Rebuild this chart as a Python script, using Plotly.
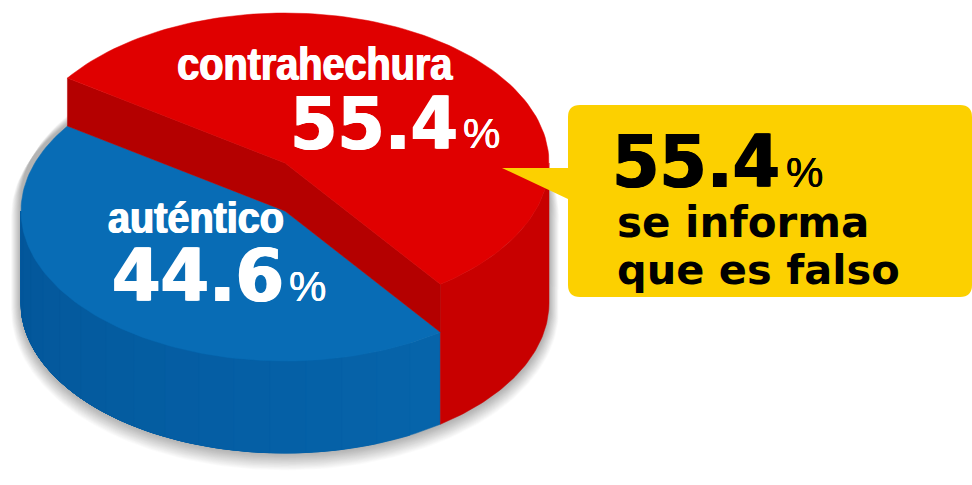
import json
import numpy as np
import plotly.graph_objects as go

categories = ["contrahechura", "auténtico"]
values = [55.4, 44.6]
percent_labels = ["55.4", "44.6"]
callout_value = "55.4"
callout_lines = ["se informa", "que es falso"]

W, H = 972, 485
CX, RX, RY = 285, 264, 150
Y_TOP_RED, Y_TOP_BLUE, Y_BOT = 163, 211, 303
START = -55.5

RED_TOP, RED_WALL, RED_SIDE = "#E00000", "#B40000", "#C80000"
BLUE_TOP = "#086CB5"
YELLOW = "#FCD000"

sweep_red = values[0] / sum(values) * 360
sweep_blue = values[1] / sum(values) * 360
mid = START + sweep_red
end = mid + sweep_blue


def arc(a0, a1, cy, rx=RX, ry=RY, n=120):
    t = np.radians(np.linspace(a0, a1, n))
    return CX + rx * np.sin(t), cy - ry * np.cos(t)


def poly(x, y, color, width=0.5):
    return go.Scatter(x=list(x), y=list(y), mode="lines", fill="toself", fillcolor=color,
                      line=dict(color=color, width=width), hoverinfo="skip", showlegend=False)


def band(a0, a1, y0, y1, color, n=60):
    xa, ya = arc(a0, a1, y0, n=n)
    xb, yb = arc(a1, a0, y1, n=n)
    return poly(np.r_[xa, xb, xa[0]], np.r_[ya, yb, ya[0]], color)


def sector(a0, a1, cy, color):
    xa, ya = arc(a0, a1, cy)
    return poly(np.r_[CX, xa, CX], np.r_[cy, ya, cy], color)


def wall(a, color):
    xa, ya = arc(a, a, Y_TOP_RED, n=1)
    xb, yb = arc(a, a, Y_TOP_BLUE, n=1)
    return poly([CX, xa[0], xb[0], CX, CX], [Y_TOP_RED, ya[0], yb[0], Y_TOP_BLUE, Y_TOP_RED], color)


fig = go.Figure()

# soft shadow, heavier towards the bottom of the pie
for k in range(20, 0, -1):
    a = 0.016
    off = k * 0.75
    xu, yu = arc(-90, 90, 200 + off, RX + k * 0.5, RY)
    xl, yl = arc(90, 270, Y_BOT + off * 0.5, RX + k * 0.5, RY + k * 0.5)
    fig.add_trace(go.Scatter(x=list(np.r_[xu, xl, xu[0]]), y=list(np.r_[yu, yl, yu[0]]),
                             mode="lines", fill="toself", fillcolor=f"rgba(0,0,0,{a})",
                             line=dict(width=0), hoverinfo="skip", showlegend=False))

# outer sides: each shade is painted over the previous one, so no seams show
strips = 16
edges = np.linspace(mid, 270, strips + 1)
for i in range(strips):
    f = i / (strips - 1)
    col = f"rgb({round(6 - 3 * f)},{round(100 - 14 * f)},{round(170 - 16 * f)})"
    fig.add_trace(band(edges[i], 270, Y_TOP_BLUE, Y_BOT, col))
fig.add_trace(band(90, mid, Y_TOP_RED, Y_BOT, RED_SIDE))

# blue top surface
fig.add_trace(sector(mid, end, Y_TOP_BLUE, BLUE_TOP))

# raised red slice: walls and top
fig.add_trace(wall(START, RED_WALL))
fig.add_trace(wall(mid, RED_WALL))
fig.add_trace(sector(START, mid, Y_TOP_RED, RED_TOP))

r = 12
x0, x1, y0, y1 = 568, 972, 105, 297
callout = (f"M{x0+r},{y0} L{x1-r},{y0} Q{x1},{y0} {x1},{y0+r} L{x1},{y1-r} Q{x1},{y1} {x1-r},{y1} "
           f"L{x0+r},{y1} Q{x0},{y1} {x0},{y1-r} L{x0},199 L502,168 L{x0},168 L{x0},{y0+r} Q{x0},{y0} {x0+r},{y0} Z")
shapes = [dict(type="path", path=callout, xref="x", yref="y", fillcolor=YELLOW, line=dict(width=0), layer="above")]


def thick(c, w=1):
    return f"{w}px 0 0 {c}, -{w}px 0 0 {c}"


def note(text, x, y, size, color, family, weight="normal", shadow=None, anchor="left"):
    font = dict(size=size, color=color, family=family, weight=weight)
    if shadow:
        font["shadow"] = shadow
    return dict(text=text, x=x, y=y, xref="x", yref="y", xanchor=anchor, yanchor="middle",
                showarrow=False, font=font, borderpad=0, align="center")


BOLD = "Liberation Sans"
WIDE = "DejaVu Sans"
PCT = "Liberation Sans"
annotations = [
    note(categories[0], 314.5, 64, 46, "white", BOLD, "bold", thick("#fff", 0.8), "center"),
    note(percent_labels[0], 373.5, 123, 73, "white", WIDE, "bold", thick("#fff", 1), "center"),
    note("%", 462, 133, 42, "white", PCT, shadow=thick("#fff", 0.2)),
    note(categories[1], 196, 217, 45, "white", BOLD, "bold", thick("#fff", 0.8), "center"),
    note(percent_labels[1], 197.5, 275, 73, "white", WIDE, "bold", thick("#fff", 1), "center"),
    note("%", 288, 286, 42, "white", PCT, shadow=thick("#fff", 0.2)),
    note(callout_value, 696, 161, 73, "black", WIDE, "bold", thick("#000", 1), "center"),
    note("%", 785, 172, 42, "black", PCT, shadow=thick("#000", 0.2)),
    note(callout_lines[0], 616, 222, 42, "black", WIDE, "bold"),
    note(callout_lines[1], 616, 269, 41.5, "black", WIDE, "bold"),
]

fig.update_layout(
    width=W, height=H, margin=dict(l=0, r=0, t=0, b=0),
    paper_bgcolor="white", plot_bgcolor="white", showlegend=False,
    xaxis=dict(range=[0, W], visible=False, fixedrange=True),
    yaxis=dict(range=[H, 0], visible=False, fixedrange=True),
    shapes=shapes, annotations=annotations,
)

# horizontally fit the labels to their measured widths
fit = {categories[0]: 275, categories[1]: 176, percent_labels[0]: 168, percent_labels[1]: 172}
script = (
    "document.body.style.margin='0';document.documentElement.style.overflow='hidden';"
    "var fit=" + json.dumps(fit, ensure_ascii=False) + ";"
    "document.querySelectorAll('.annotation-text').forEach(function(t){"
    "var w=fit[t.textContent];if(w){t.setAttribute('textLength',w);"
    "t.setAttribute('lengthAdjust','spacingAndGlyphs');}});"
)
fig.write_html("out.html", config=dict(displayModeBar=False), post_script=script)
